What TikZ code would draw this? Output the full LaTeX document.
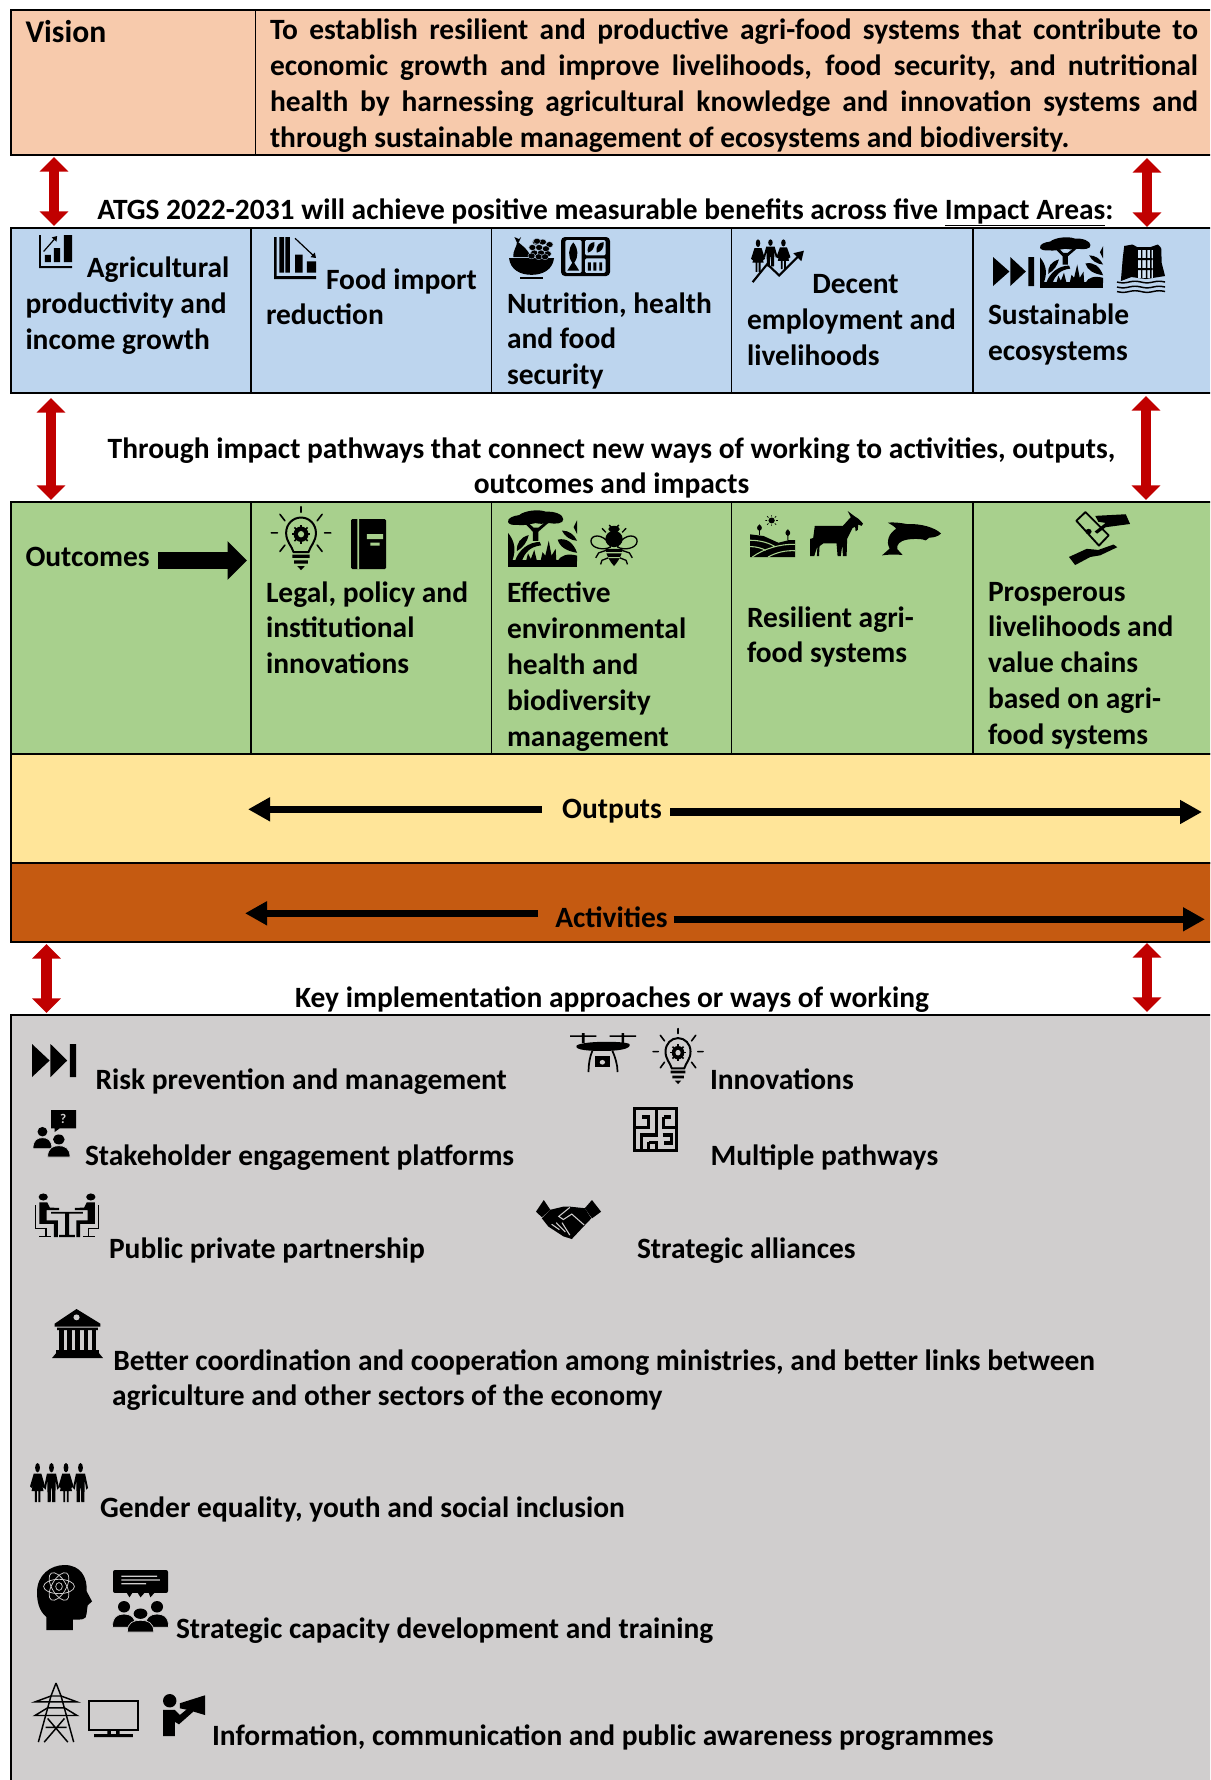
\documentclass[tikz,border=0pt]{standalone}
\usepackage{fontspec}
\setmainfont{Carlito}
\usetikzlibrary{arrows.meta}
\definecolor{cpeach}{HTML}{F7CAAC}
\definecolor{cblue}{HTML}{BDD5EE}
\definecolor{cgreen}{HTML}{A8D08D}
\definecolor{cyellow}{HTML}{FFE599}
\definecolor{corange}{HTML}{C55A11}
\definecolor{cgray}{HTML}{D0CECE}
\definecolor{cred}{HTML}{C00000}
\newcommand\lblfont{\fontsize{22.1pt}{26.85pt}\selectfont\bfseries}
\tikzset{
 panel/.style={draw=black,line width=1.6pt},
 divider/.style={draw=black,line width=1.3pt},
 lbl/.style={inner sep=0pt,outer sep=0pt,anchor=north west,align=left,font=\lblfont,text=black},
 clbl/.style={inner sep=0pt,outer sep=0pt,anchor=north,align=center,font=\lblfont,text=black},
 redarrow/.style={draw=cred,line width=8pt,{Triangle[length=11pt,width=21pt]}-{Triangle[length=11pt,width=21pt]}},
 flow/.style={draw=black,line width=5.6pt,-{Triangle[length=16.5pt,width=17pt]}},
 bigflow/.style={draw=black,line width=12.5pt,-{Triangle[length=14.5pt,width=28pt]}},
}
\newcommand\lbl[5][]{\node[lbl,#1] (#2) at (#3,{#4-23.9}) {\strut #5};}
\newcommand\clbl[4]{\node[clbl] (#1) at (#2,{#3-23.9}) {\strut #4};}
\newcommand\icon[5]{\pgfmathsetmacro\ix{(#3-#1)*0.0075}\pgfmathsetmacro\iy{(#4-#2)*0.0075}%
 \begin{scope}[shift={(#1,#2)},x=\ix pt,y=-\iy pt]#5\end{scope}}
% generic figures: cx, top, w, h in the icon's units
\newcommand\FigM[4]{\begin{scope}[shift={(#1,#2)},xscale=#3/100,yscale=#4/100]
 \fill (0,12) ellipse [x radius=16,y radius=12];
 \fill (-30,27)--(30,27)--(50,64)--(38,68)--(28,45)--(25,100)--(5,100)--(3,65)--(-3,65)--(-5,100)--(-25,100)--(-28,45)--(-38,68)--(-50,64)--cycle;
 \end{scope}}
\newcommand\FigF[4]{\begin{scope}[shift={(#1,#2)},xscale=#3/100,yscale=#4/100]
 \fill (0,12) ellipse [x radius=16,y radius=12];
 \fill (-25,27)--(25,27)--(50,60)--(38,64)--(22,42)--(40,72)--(18,72)--(18,100)--(5,100)--(5,72)--(-5,72)--(-5,100)--(-18,100)--(-18,72)--(-40,72)--(-22,42)--(-38,64)--(-50,60)--cycle;
 \end{scope}}
\newcommand\Bust[4]{\begin{scope}[shift={(#1,#2)},xscale=#3/100,yscale=#4/100]
 \fill (0,22) ellipse [x radius=26,y radius=22];
 \fill[draw=\icbg,line width=.5pt] (-50,100) .. controls (-50,58) and (-25,50) .. (0,50) .. controls (25,50) and (50,58) .. (50,100) -- cycle;
 \end{scope}}
\newcommand\IcChartUp{\fill (0,0) rectangle (6,100) (0,94) rectangle (100,100) (18,60) rectangle (36,82) (45,40) rectangle (64,82) (75,0) rectangle (100,82);
 \draw[line width=.9pt,-{Triangle[length=3.5pt,width=4.5pt]}] (14,50) -- (55,3);}
\newcommand\IcChartDown{\fill (0,0) rectangle (6,100) (0,93) rectangle (100,100) (13,0) rectangle (24,85) (27,0) rectangle (38,85) (50,42) rectangle (68,85) (78,58) rectangle (100,85);
 \draw[line width=.9pt,-{Triangle[length=3.5pt,width=4.5pt]}] (50,3) -- (100,50);}
\newcommand\IcBowl{\fill (0,50) .. controls (3,78) and (25,90) .. (50,90) .. controls (75,90) and (97,78) .. (100,50) -- cycle;
 \fill (25,95) rectangle (75,100);
 \fill (10,48) .. controls (8,30) and (18,25) .. (18,10) .. controls (28,20) and (45,30) .. (47,48) -- cycle;
 \fill (12,0) -- (22,5) -- (27,0) -- (22,12) -- (17,12) -- cycle;
 \foreach \p/\q in {60/12,75/12,90/18,52/25,67/25,82/28,56/38,71/38,86/40,62/10,50/45,66/47,80/47}{\fill[draw=\icbg,line width=.25pt] (\p,\q) ellipse [x radius=8,y radius=7];}}
\newcommand\IcTray{\fill[rounded corners=3pt] (0,0) rectangle (100,100);
 \fill[\icbg,rounded corners=1pt] (9,8) rectangle (42,92) (49,8) rectangle (91,47) (49,55) rectangle (91,92);
 \fill (25,14) .. controls (36,30) and (36,50) .. (27,66) -- (37,86) -- (13,86) -- (23,66) .. controls (14,50) and (14,30) .. (25,14) -- cycle;
 \fill (55,40) .. controls (52,22) and (60,14) .. (68,13) .. controls (70,28) and (62,38) .. (55,40) -- cycle;
 \fill (73,40) .. controls (70,22) and (78,14) .. (87,13) .. controls (88,28) and (82,38) .. (73,40) -- cycle;
 \fill (55,65) rectangle (61,86) (66,65) rectangle (72,86) (78,65) rectangle (84,86);}
\newcommand\IcGrow{\FigF{13}{3}{26}{72}\FigM{36}{3}{26}{60}\FigF{60}{3}{26}{66}
 \draw[line width=1.6pt,-{Triangle[length=7pt,width=8pt]}] (3,98) -- (30,58) -- (52,83) -- (98,28);}
\newcommand\IcFF{\fill (0,0) -- (40,50) -- (0,100) -- cycle (42,0) -- (80,50) -- (42,100) -- cycle (86,0) rectangle (100,100);}
\newcommand\IcTree{\fill (0,21) .. controls (-1,14) and (8,10) .. (16,9) .. controls (24,1) and (44,-2) .. (55,3) .. controls (68,2) and (80,8) .. (80,16) .. controls (81,24) and (68,25) .. (60,23) .. controls (50,25) and (44,24) .. (40,23) .. controls (30,25) and (20,28) .. (14,26) .. controls (6,27) and (1,25) .. (0,21) -- cycle;
 \fill (24,23) -- (30,23) -- (37,31) -- (44,31) -- (52,23) -- (58,23) -- (44,38) -- (44,54) -- (36,54) -- (36,38) -- cycle;
 \fill (0,88) rectangle (100,100);
 \fill (0,40) .. controls (10,55) and (12,70) .. (6,90) -- (0,90) -- cycle;
 \fill (30,44) .. controls (18,48) and (12,58) .. (13,72) .. controls (22,66) and (28,55) .. (30,44) -- cycle;
 \fill (10,90) .. controls (15,70) and (30,56) .. (46,56) -- (48,62) .. controls (32,64) and (24,75) .. (20,90) -- cycle;
 \fill (26,90) -- (29,76) -- (33,86) -- (38,70) -- (42,90) -- cycle (47,90) -- (50,74) -- (54,80) -- (59,54) -- (63,80) -- (69,68) -- (70,90) -- cycle;
 \fill (72,90) .. controls (76,78) and (88,76) .. (100,80) -- (100,90) -- cycle;
 \fill (72,52) .. controls (85,48) and (95,58) .. (100,75) .. controls (85,72) and (75,65) .. (72,52) -- cycle;
 \fill (100,18) -- (95,30) -- (100,42) -- cycle (78,36) .. controls (88,36) and (96,43) .. (100,54) .. controls (90,53) and (82,46) .. (78,36) -- cycle;}
\newcommand\IcFall{\fill (8,76) -- (12,30) -- (15,6) -- (32,3) -- (42,8) -- (70,8) -- (85,3) -- (92,10) -- (93,40) -- (100,66) -- (60,72) -- (30,68) -- cycle;
 \fill[\icbg!70!white] (44,14) rectangle (74,70);
 \fill (50,14) rectangle (53,70) (60,14) rectangle (63,70) (69,14) rectangle (72,70);
 \fill (44,30) rectangle (74,34) (44,50) rectangle (74,54);
 \foreach \wy in {78,88,97}{\draw[line width=1.1pt] plot[domain=0:100,samples=41,smooth] (\x,{\wy+1.6*sin(\x*7.2)});}}
\newcommand\IcBulb{\draw[line width=1.2pt,line cap=round] (50,1)--(50,10) (2,42)--(12,42) (88,42)--(98,42) (16,13)--(24,23) (84,13)--(76,23) (16,71)--(24,61) (84,71)--(76,61);
 \draw[line width=1.5pt] (38,72) .. controls (35,62) and (26,56) .. (26,42) .. controls (26,28) and (37,18) .. (50,18) .. controls (63,18) and (74,28) .. (74,42) .. controls (74,56) and (65,62) .. (62,72) -- cycle;
 \fill (50,44) ellipse [x radius=12,y radius=12];
 \foreach \a in {0,45,...,315}{\draw[line width=1.2pt] ({50+10*cos(\a)},{44+10*sin(\a)}) -- ({50+15*cos(\a)},{44+15*sin(\a)});}
 \fill[\icbg] (50,44) ellipse [x radius=5,y radius=5];
 \fill (36,76) rectangle (64,81) (39,85) rectangle (61,90) (44,94) -- (56,94) -- (50,100) -- cycle;}
\newcommand\IcBook{\fill[rounded corners=1pt] (0,0) rectangle (100,100);
 \fill[\icbg] (18,0) rectangle (23,100) (45,30) rectangle (92,40) (55,47) rectangle (82,53);}
\newcommand\IcBee{\draw[line width=1pt,fill=\icbg] (42,48) .. controls (25,18) and (1,24) .. (2,40) .. controls (3,58) and (30,62) .. (42,54) -- cycle;
 \draw[line width=1pt,fill=\icbg] (58,48) .. controls (75,18) and (99,24) .. (98,40) .. controls (97,58) and (70,62) .. (58,54) -- cycle;
 \fill (50,10) ellipse [x radius=12,y radius=8];
 \fill (50,34) ellipse [x radius=18,y radius=20];
 \fill (32,58) .. controls (34,75) and (42,90) .. (50,100) .. controls (58,90) and (66,75) .. (68,58) -- cycle;
 \fill[\icbg] (33,66) rectangle (67,69) (37,78) rectangle (63,81);
 \draw[line width=1pt] (44,5)--(40,0) (56,5)--(60,0) (33,18)--(25,8) (67,18)--(75,8) (33,62)--(18,68)--(12,80) (67,62)--(82,68)--(88,80) (38,80)--(25,86)--(22,96) (62,80)--(75,86)--(78,96);}
\newcommand\IcFarm{\fill (48,13) ellipse [x radius=7,y radius=7];
 \draw[line width=.55pt] (48,0)--(48,4) (48,22)--(48,26) (34,13)--(38,13) (58,13)--(62,13) (38,3)--(41,6) (58,3)--(55,6) (38,23)--(41,20) (58,23)--(55,20);
 \fill (0,46) -- (30,50) -- (63,66) -- (85,60) -- (100,60) -- (100,100) -- (0,100) -- cycle;
 \draw[\icbg,line width=.8pt] (0,60) .. controls (25,60) and (45,68) .. (55,75) (0,75) .. controls (15,75) and (28,80) .. (35,84) (5,100) .. controls (30,80) and (70,68) .. (100,70) (40,100) .. controls (60,88) and (80,84) .. (100,85);
 \fill (20,47) rectangle (22,35) (83,60) rectangle (85,48);
 \fill (21,38) .. controls (14,34) and (14,28) .. (21,22) .. controls (28,28) and (28,34) .. (21,38) -- cycle;
 \fill (84,50) .. controls (77,46) and (77,40) .. (84,34) .. controls (91,40) and (91,46) .. (84,50) -- cycle;}
\newcommand\IcGoat{\fill (9,33) -- (62,33) -- (72,20) -- (77,14) -- (71,0) -- (82,10) -- (92,18) -- (100,28) -- (97,33) -- (91,30) -- (90,42) -- (86,45) -- (85,35) -- (80,38) -- (70,62) -- (69,100) -- (62,100) -- (61,75) -- (58,100) -- (52,100) -- (50,72) -- (25,72) -- (18,78) -- (17,100) -- (13,100) -- (14,78) -- (8,100) -- (0,100) -- (0,62) -- (6,60) -- cycle;}
\newcommand\IcDolphin{\fill (100,34) .. controls (90,16) and (65,4) .. (42,6) .. controls (30,2) and (18,0) .. (10,2) .. controls (16,8) and (22,14) .. (24,20) .. controls (12,32) and (6,58) .. (13,78) -- (0,98) .. controls (12,95) and (25,95) .. (35,97) -- (26,80) .. controls (24,66) and (30,56) .. (42,52) .. controls (55,48) and (70,50) .. (74,54) -- (80,46) .. controls (88,46) and (95,42) .. (100,34) -- cycle;}
\newcommand\IcMoney{\draw[line width=1.4pt,fill=\icbg,line join=round] (12,18) -- (27,2) -- (65,45) -- (49,64) -- cycle;
 \fill (32,38) ellipse [x radius=5,y radius=5];
 \fill (43,9) -- (93,6) -- (100,24) -- (60,30) -- (46,42) -- (42,38) -- (60,22) -- (48,20) -- cycle;
 \fill (0,85) -- (29,70) -- (48,72) -- (73,62) -- (79,67) -- (51,82) -- (35,85) -- (10,100) -- cycle;}
\newcommand\IcStake{\fill (42,0) rectangle (100,39) (50,39) -- (62,39) -- (50,47) -- cycle;
 \node[inner sep=0pt,text=\icbg,font=\bfseries\fontsize{10pt}{10pt}\selectfont] (qmark) at (70,19) {?};
 \Bust{22}{36}{44}{46}\Bust{60}{52}{52}{48}}
\newcommand\IcMeet{\fill (14,9) ellipse [x radius=7,y radius=8] (86,9) ellipse [x radius=7,y radius=8];
 \fill (8,21) -- (20,21) -- (24,33) -- (38,34) -- (38,39) -- (19,39) -- (19,62) -- (36,62) -- (36,100) -- (30,100) -- (30,70) -- (8,70) -- cycle;
 \fill (92,21) -- (80,21) -- (76,33) -- (62,34) -- (62,39) -- (81,39) -- (81,62) -- (64,62) -- (64,100) -- (70,100) -- (70,70) -- (92,70) -- cycle;
 \draw[line width=1pt] (2,28)--(2,80)--(18,80)--(18,98) (8,99)--(26,99) (98,28)--(98,80)--(82,80)--(82,98) (92,99)--(74,99);
 \fill (26,43) rectangle (74,47) (47,47) rectangle (53,95) (38,95) rectangle (62,100);}
\newcommand\IcDrone{\fill (0,6) rectangle (40,10) (60,6) rectangle (100,10) (18,0) rectangle (22,25) (78,0) rectangle (82,25);
 \fill (10,32) .. controls (20,20) and (80,20) .. (90,28) .. controls (94,42) and (70,46) .. (50,46) .. controls (30,46) and (6,44) .. (10,32) -- cycle;
 \draw[line width=1.3pt] (34,45) .. controls (30,60) and (28,80) .. (28,100) (64,45) .. controls (68,60) and (72,80) .. (72,100);
 \fill (38,60) rectangle (60,88); \fill[\icbg] (49,75) ellipse [x radius=4,y radius=6];}
\newcommand\IcMaze{\draw[line width=2.4pt,line join=miter] (4,4) rectangle (96,96);
 \draw[line width=2.4pt] (4,46)--(35,46)--(35,22)--(20,22) (52,4)--(52,62)--(18,62)--(18,96) (68,22)--(85,22) (68,22)--(68,45)--(96,45) (66,62)--(85,62)--(85,80)--(68,80) (35,78)--(35,96) (35,78)--(52,78)--(52,96);}
\newcommand\IcShake{\fill (0,30) -- (12,0) -- (22,25) -- (9,44) -- cycle (86,0) -- (100,30) -- (86,47) -- (75,21) -- cycle;
 \fill (22,25) -- (42,17) -- (52,17) -- (75,21) -- (85,47) -- (73,68) -- (55,100) -- (42,93) -- (19,68) -- (9,47) -- cycle;
 \draw[\icbg,line width=.8pt] (52,19) -- (35,42) -- (42,50) -- (55,36) -- (74,64) (24,62) -- (36,76) (31,58) -- (45,82) (40,58) -- (52,90);}
\newcommand\IcBank{\fill (48,0) -- (95,30) -- (95,36) -- (5,36) -- (5,30) -- cycle;
 \fill[\icbg] (48,17) ellipse [x radius=6,y radius=6];
 \foreach \cx in {14,30,46,62,78}{\fill (\cx,38) rectangle (\cx+9,84);}
 \fill (10,38) rectangle (90,43) (8,84) rectangle (92,90) (8,90) -- (92,90) -- (100,100) -- (0,100) -- cycle;}
\newcommand\IcFour{\FigF{13}{0}{26}{100}\FigM{37}{0}{26}{100}\FigF{62}{0}{26}{100}\FigM{87}{0}{26}{100}}
\newcommand\IcHead{\fill (17,100) -- (17,80) .. controls (3,70) and (0,55) .. (0,42) .. controls (0,15) and (25,0) .. (50,0) .. controls (80,0) and (92,20) .. (90,40) -- (100,56) -- (92,62) -- (90,75) .. controls (90,85) and (80,84) .. (65,84) -- (65,100) -- cycle;
 \begin{scope}[\icbg,line width=.55pt]
 \draw[rotate around={0:(40,33)}] (40,33) ellipse [x radius=28,y radius=11];
 \draw[rotate around={60:(40,33)}] (40,33) ellipse [x radius=28,y radius=11];
 \draw[rotate around={120:(40,33)}] (40,33) ellipse [x radius=28,y radius=11];
 \draw (40,33) ellipse [x radius=6,y radius=6];
 \end{scope}}
\newcommand\IcTalk{\fill[rounded corners=1.5pt] (0,0) rectangle (100,37);
 \fill (25,37) -- (35,37) -- (30,44) -- cycle (45,37) -- (57,37) -- (50,44) -- cycle (65,37) -- (75,37) -- (68,44) -- cycle;
 \fill[\icbg] (15,9) rectangle (80,11) (15,15) rectangle (85,17) (15,21) rectangle (60,23);
 \Bust{20}{50}{42}{42}\Bust{80}{50}{42}{42}\Bust{50}{62}{48}{38}}
\newcommand\IcTower{\draw[line width=1.1pt,line join=miter] (50,0)--(38,22)--(8,100) (50,0)--(62,22)--(92,100);
 \draw[line width=1.1pt] (0,32)--(100,32)--(62,22)--(38,22)--cycle (0,55)--(100,55)--(70,42)--(30,42)--cycle (30,60)--(78,100) (70,60)--(22,100) (25,75)--(75,75);}
\newcommand\IcScreen{\draw[line width=1.7pt] (2,3) rectangle (98,80); \fill (38,80) rectangle (45,92) (55,80) rectangle (62,92) (12,92) rectangle (88,100);}
\newcommand\IcMega{\fill (16,16) ellipse [x radius=16,y radius=16];
 \fill (0,38) -- (28,38) -- (40,50) -- (62,32) -- (72,42) -- (38,72) -- (28,66) -- (28,100) -- (0,100) -- cycle;
 \fill (40,22) -- (100,3) -- (100,50) -- (60,38) -- (40,34) -- cycle;}
\begin{document}
\begin{tikzpicture}[x=0.75pt,y=-0.75pt]
\useasboundingbox (0,0) rectangle (1210,1780);
\clip (0,0) rectangle (1210,1780);
% panels
\path[panel,fill=cpeach] (11,10) rectangle (1225,155);
\draw[divider] (255.5,10) -- (255.5,155);
\path[panel,fill=cblue] (11,228) rectangle (1225,393);
\path[panel,fill=cgreen] (11,502) rectangle (1225,754);
\path[panel,fill=cyellow] (11,754) rectangle (1225,863);
\path[panel,fill=corange] (11,863) rectangle (1225,942);
\path[panel,fill=cgray] (11,1015) rectangle (1225,1800);
\foreach \dx in {251,491.5,731.5,973}{\draw[divider] (\dx,228) -- (\dx,393) (\dx,502) -- (\dx,754);}
% vision
\lbl{vision}{25.5}{41.7}{\fontsize{23.7pt}{26.85pt}\selectfont\strut Vision}
\lbl{visiontext}{270}{38.6}{\makebox[696pt][s]{To establish resilient and productive agri-food systems that contribute to}\\\makebox[696pt][s]{economic growth and improve livelihoods, food security, and nutritional}\\\makebox[696pt][s]{health by harnessing agricultural knowledge and innovation systems and}\\through sustainable management of ecosystems and biodiversity.}
\clbl{atgs}{605.5}{218}{ATGS 2022-2031 will achieve positive measurable benefits across five \underline{Impact Areas}:}
% impact areas
\lbl{ia1}{25.5}{276.7}{\hspace*{46pt}Agricultural\\productivity and\\income growth}
\lbl{ia2}{266}{288}{\hspace*{45pt}Food import\\reduction}
\lbl{ia3}{507}{312}{Nutrition, health\\and food\\security}
\lbl{ia4}{747}{292.7}{\hspace*{49pt}Decent\\employment and\\livelihoods}
\lbl{ia5}{988}{323.5}{Sustainable\\ecosystems}
\clbl{through}{611.5}{457}{Through impact pathways that connect new ways of working to activities, outputs,\\outcomes and impacts}
% outcomes
\lbl{outc}{25.5}{565}{Outcomes}
\lbl{oc1}{266}{601}{Legal, policy and\\institutional\\innovations}
\lbl{oc2}{507}{601.7}{Effective\\environmental\\health and\\biodiversity\\management}
\lbl{oc3}{747}{626}{Resilient agri-\\food systems}
\lbl{oc4}{988}{600}{Prosperous\\livelihoods and\\value chains\\based on agri-\\food systems}
\clbl{outputs}{612}{817}{Outputs}
\clbl{activities}{611.5}{926}{Activities}
\clbl{keyappr}{612}{1006}{Key implementation approaches or ways of working}
% ways of working
\lbl{w1}{95.5}{1088}{Risk prevention and management}
\lbl{w2}{85}{1164}{Stakeholder engagement platforms}
\lbl{w3}{109}{1257}{Public private partnership}
\lbl{w4}{710}{1088}{Innovations}
\lbl{w5}{710.5}{1164}{Multiple pathways}
\lbl{w6}{637}{1257}{Strategic alliances}
\lbl{w7}{112}{1369}{\hspace*{1pt}Better coordination and cooperation among ministries, and better links between\\agriculture and other sectors of the economy}
\lbl{w8}{100}{1516}{Gender equality, youth and social inclusion}
\lbl{w9}{176}{1637}{Strategic capacity development and training}
\lbl{w10}{212}{1744}{Information, communication and public awareness programmes}
% connectors
\coordinate (a1t) at (54,157); \coordinate (a1b) at (54,226);
\coordinate (a2t) at (1147,158); \coordinate (a2b) at (1147,227);
\coordinate (a3t) at (51,398); \coordinate (a3b) at (51,500);
\coordinate (a4t) at (1146,396); \coordinate (a4b) at (1146,500);
\coordinate (a5t) at (46.5,944); \coordinate (a5b) at (46.5,1013);
\coordinate (a6t) at (1147,943); \coordinate (a6b) at (1147,1012);
\draw[redarrow] (a1t) -- (a1b);
\draw[redarrow] (a2t) -- (a2b);
\draw[redarrow] (a3t) -- (a3b);
\draw[redarrow] (a4t) -- (a4b);
\draw[redarrow] (a5t) -- (a5b);
\draw[redarrow] (a6t) -- (a6b);
\coordinate (oclt) at (158,560.5); \coordinate (ocrt) at (247,560.5);
\draw[bigflow] (oclt) -- (ocrt);
\coordinate (o1s) at (541.5,809.3); \coordinate (o1e) at (248,809.3);
\coordinate (o2s) at (670,812); \coordinate (o2e) at (1202,812);
\coordinate (a7s) at (538,913.3); \coordinate (a7e) at (245,913.3);
\coordinate (a8s) at (673.6,919.3); \coordinate (a8e) at (1205,919.3);
\draw[flow] (o1s) -- (o1e);
\draw[flow] (o2s) -- (o2e);
\draw[flow] (a7s) -- (a7e);
\draw[flow] (a8s) -- (a8e);
% icons
\def\icbg{cblue}
\icon{39}{235}{72}{268}{\IcChartUp}
\icon{274}{237}{316}{279}{\IcChartDown}
\icon{509}{237}{554}{279}{\IcBowl}
\icon{561}{237}{610}{276}{\IcTray}
\icon{751}{238}{805}{283}{\IcGrow}
\icon{993}{257}{1034}{286}{\IcFF}
\icon{1040}{237}{1103}{288}{\IcTree}
\icon{1117}{243}{1165}{293}{\IcFall}
\def\icbg{cgreen}
\icon{270}{506}{332}{570}{\IcBulb}
\icon{351}{519}{386}{569}{\IcBook}
\icon{508}{510}{577}{567}{\IcTree}
\icon{590}{525}{638}{566}{\IcBee}
\icon{750}{515}{795}{557}{\IcFarm}
\icon{810}{511}{863}{556}{\IcGoat}
\icon{882}{522}{941}{556}{\IcDolphin}
\icon{1069}{511}{1130}{565}{\IcMoney}
\def\icbg{cgray}
\icon{32}{1044}{76}{1077}{\IcFF}
\icon{33}{1110}{76}{1157}{\IcStake}
\icon{34}{1193}{100}{1237}{\IcMeet}
\icon{570}{1033}{636}{1072}{\IcDrone}
\icon{652}{1028}{704}{1084}{\IcBulb}
\icon{633}{1107}{678}{1152}{\IcMaze}
\icon{536}{1200}{601}{1239}{\IcShake}
\icon{52}{1309}{103}{1358}{\IcBank}
\icon{30}{1463}{88}{1502}{\IcFour}
\icon{37}{1565}{92}{1630}{\IcHead}
\icon{113}{1570}{168}{1632}{\IcTalk}
\icon{35}{1683}{77}{1742}{\IcTower}
\icon{88}{1700}{139}{1737}{\IcScreen}
\icon{163}{1694}{205}{1736}{\IcMega}
\end{tikzpicture}
\end{document}
